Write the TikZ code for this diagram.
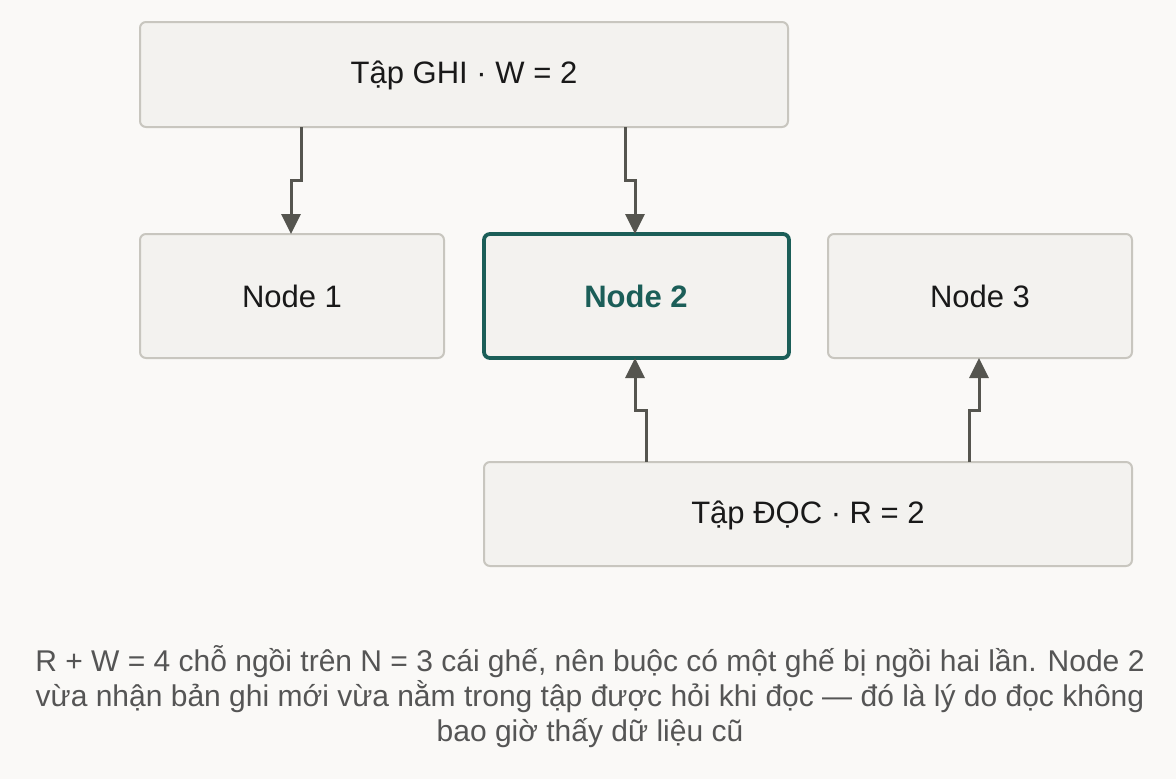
\documentclass[tikz,border=0pt]{standalone}
\usepackage{fontspec}
\setmainfont{Liberation Sans}
\usetikzlibrary{arrows.meta}
\definecolor{bg}{HTML}{FAF9F7}
\definecolor{boxf}{HTML}{F3F2EF}
\definecolor{boxd}{HTML}{C8C6BF}
\definecolor{teal}{HTML}{1B5E58}
\definecolor{arr}{HTML}{55554F}
\definecolor{cap}{HTML}{555555}
\tikzset{
 box/.style={draw=boxd,fill=boxf,line width=2pt,rounded corners=6pt},
 hl/.style={draw=teal,line width=3.8pt},
 lbl/.style={font=\fontsize{31}{36}\selectfont,text=black!90},
 conn/.style={draw=arr,line width=3pt,-{Triangle[length=20pt,width=19pt]}},
}
\begin{document}
\begin{tikzpicture}[x=1pt,y=-1pt]
\fill[bg] (0,0) rectangle (1176,779);
\useasboundingbox (0,0) rectangle (1176,779);
\path[box] (140,22) rectangle (788,127);
\node[lbl] (w) at (464,75) {Tập GHI · W = 2};
\path[box] (140,234) rectangle (444,358);
\node[lbl] (n1) at (292,296) {Node 1};
\path[box,hl] (484,234) rectangle (789,358);
\node[lbl,font=\fontsize{31}{36}\selectfont\bfseries,text=teal] (n2) at (636,296) {Node 2};
\path[box] (828,234) rectangle (1132,358);
\node[lbl] (n3) at (980,296) {Node 3};
\path[box] (484,462) rectangle (1132,566);
\node[lbl] (r) at (808,515) {Tập ĐỌC · R = 2};
\coordinate (a1) at (301,127); \coordinate (b1) at (291,234);
\coordinate (a2) at (625,127); \coordinate (b2) at (635,234);
\coordinate (a3) at (646,462); \coordinate (b3) at (635,358);
\coordinate (a4) at (969,462); \coordinate (b4) at (979,358);
\draw[conn] (a1) |- (296,180) -| (b1);
\draw[conn] (a2) |- (630,180) -| (b2);
\draw[conn] (a3) |- (640,410) -| (b3);
\draw[conn] (a4) |- (974,410) -| (b4);
\node[text=cap,align=center,font=\fontsize{30}{35}\selectfont] (c) at (590,697) {R + W = 4 chỗ ngồi trên N = 3 cái ghế, nên buộc có một ghế bị ngồi hai lần. Node 2\\vừa nhận bản ghi mới vừa nằm trong tập được hỏi khi đọc — đó là lý do đọc không\\bao giờ thấy dữ liệu cũ};
\end{tikzpicture}
\end{document}
